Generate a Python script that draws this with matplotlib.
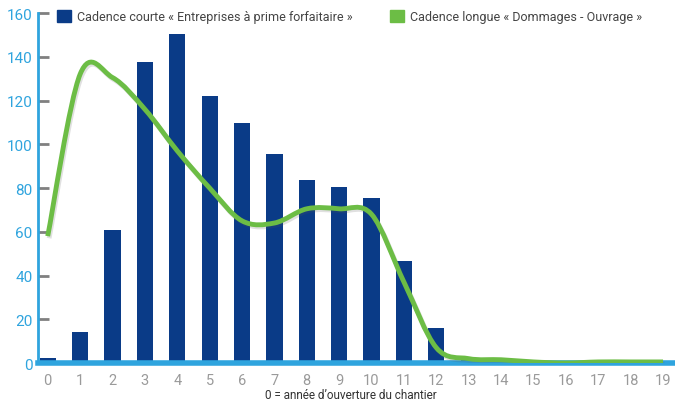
import numpy as np
import matplotlib
matplotlib.use("Agg")
import matplotlib.pyplot as plt
from matplotlib.path import Path
from matplotlib.patches import PathPatch, Patch
import matplotlib.patheffects as pe

# Data
years = list(range(20))
courte = [2.5, 14, 61, 137.5, 150.5, 122, 109.5, 95.5, 83.5, 80.5, 75.5, 46.5, 16, 1.5, 0.5, 0, 0, 0, 0, 0]
longue = [58, 132, 130.5, 116, 97, 80, 65, 64, 70.5, 70.5, 68, 37, 7, 2, 1.5, 0.5, 0, 0.5, 0.5, 0.5]

label_courte = "Cadence courte « Entreprises à prime forfaitaire »"
label_longue = "Cadence longue « Dommages - Ouvrage »"
xlabel = "0 = année d’ouverture du chantier"

dark_blue = "#0a3b87"
green = "#6cbd45"
axis_blue = "#2fa4de"
grey = "#9a9a9a"

plt.rcParams['font.family'] = ['Roboto', 'DejaVu Sans']

fig = plt.figure(figsize=(6.75, 4.06), dpi=100)
ax = fig.add_axes([0.0563, 0.1034, 0.9437, 0.8621])

ax.bar(years, courte, width=0.5, color=dark_blue, zorder=2)


# smooth curve through the points (Catmull-Rom as cubic Bezier segments)
def smooth_path(x, y):
    pts = np.column_stack([x, y]).astype(float)
    verts = [pts[0]]
    codes = [Path.MOVETO]
    for i in range(len(pts) - 1):
        p0 = pts[max(i - 1, 0)]
        p1 = pts[i]
        p2 = pts[i + 1]
        p3 = pts[min(i + 2, len(pts) - 1)]
        verts += [p1 + (p2 - p0) / 6, p2 - (p3 - p1) / 6, p2]
        codes += [Path.CURVE4] * 3
    return Path(verts, codes)


curve = PathPatch(smooth_path(years, longue), fill=False, edgecolor=green, lw=3.5,
                  capstyle='butt', joinstyle='round', zorder=3,
                  path_effects=[pe.SimpleLineShadow(offset=(1, -1.5), shadow_color='#555555', alpha=0.18),
                                pe.Normal()])
ax.add_patch(curve)

ax.set_xlim(-0.3, 19.37)
ax.set_ylim(0, 160)
ax.set_yticks(range(0, 161, 20))
ax.set_xticks(years)

for s in ['top', 'right']:
    ax.spines[s].set_visible(False)
ax.spines['left'].set_color(axis_blue)
ax.spines['left'].set_linewidth(2)
ax.spines['bottom'].set_color(axis_blue)
ax.spines['bottom'].set_linewidth(4)

ax.tick_params(axis='y', direction='in', length=8, width=2, color='#808080',
               labelcolor=axis_blue, labelsize=11, pad=4)
ax.tick_params(axis='x', length=0, labelcolor=grey, labelsize=10.5, pad=7)

fig.text(0.52, 0.01, xlabel, ha='center', va='bottom', fontsize=8.5, color='#333333')

handles = [Patch(color=dark_blue, label=label_courte), Patch(color=green, label=label_longue)]
fig.legend(handles=handles, loc='upper left', bbox_to_anchor=(0.068, 1.0), ncol=2,
           frameon=False, fontsize=9, handlelength=1.1, handleheight=1.1,
           handletextpad=0.5, columnspacing=3.0, labelcolor='#444444')

fig.savefig("out.png", dpi=100)
